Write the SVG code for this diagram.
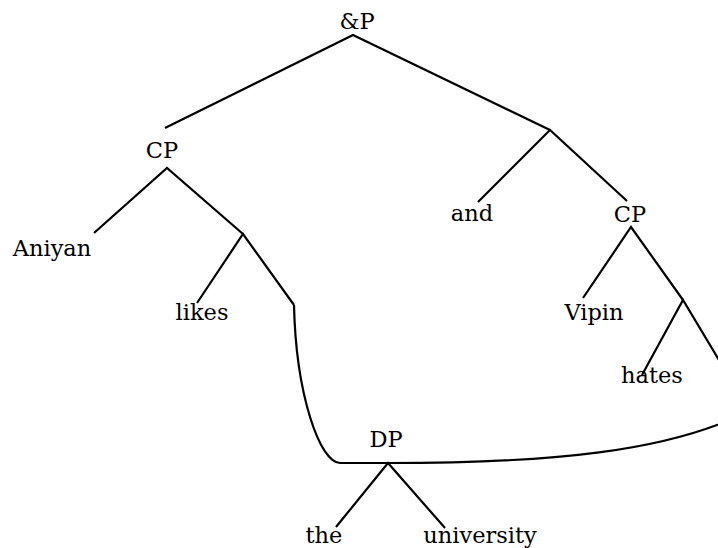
<svg xmlns="http://www.w3.org/2000/svg" width="718" height="548" viewBox="0 0 718 548">
<style>
text{font-family:"DejaVu Serif","Liberation Serif",serif;font-size:22.5px;fill:#000;text-anchor:middle}
.e{fill:none;stroke:#000;stroke-width:2.2;stroke-linejoin:miter}
</style>
<rect width="718" height="548" fill="#fff"/>
<g id="edges">
<path class="e" d="M165,128 L353,35 L550,130"/>
<path class="e" d="M478,202 L550,130 L627,201"/>
<path class="e" d="M94,233 L167,168 L243,234"/>
<path class="e" d="M197,303 L243,234 L294,305"/>
<path class="e" d="M583,298 L631,227 L683,300"/>
<path class="e" d="M642,375 L683,300 L740,395"/>
<path class="e" d="M294,305 C296,395 320,463 340,463 L388,463 C540,463 675,454 760,405"/>
<path class="e" d="M336,527 L388,463 L445,528"/>
</g>
<g id="n-andP"><text x="357" y="29">&amp;P</text></g>
<g id="n-cp1"><text x="162" y="158">CP</text></g>
<g id="n-aniyan"><text x="52" y="256">Aniyan</text></g>
<g id="n-likes"><text x="202" y="320">likes</text></g>
<g id="n-and"><text x="472" y="221">and</text></g>
<g id="n-cp2"><text x="630" y="222">CP</text></g>
<g id="n-vipin"><text x="594" y="320">Vipin</text></g>
<g id="n-hates"><text x="652" y="383">hates</text></g>
<g id="n-dp"><text x="386" y="447">DP</text></g>
<g id="n-the"><text x="324" y="543">the</text></g>
<g id="n-university"><text x="480" y="543">university</text></g>
</svg>
